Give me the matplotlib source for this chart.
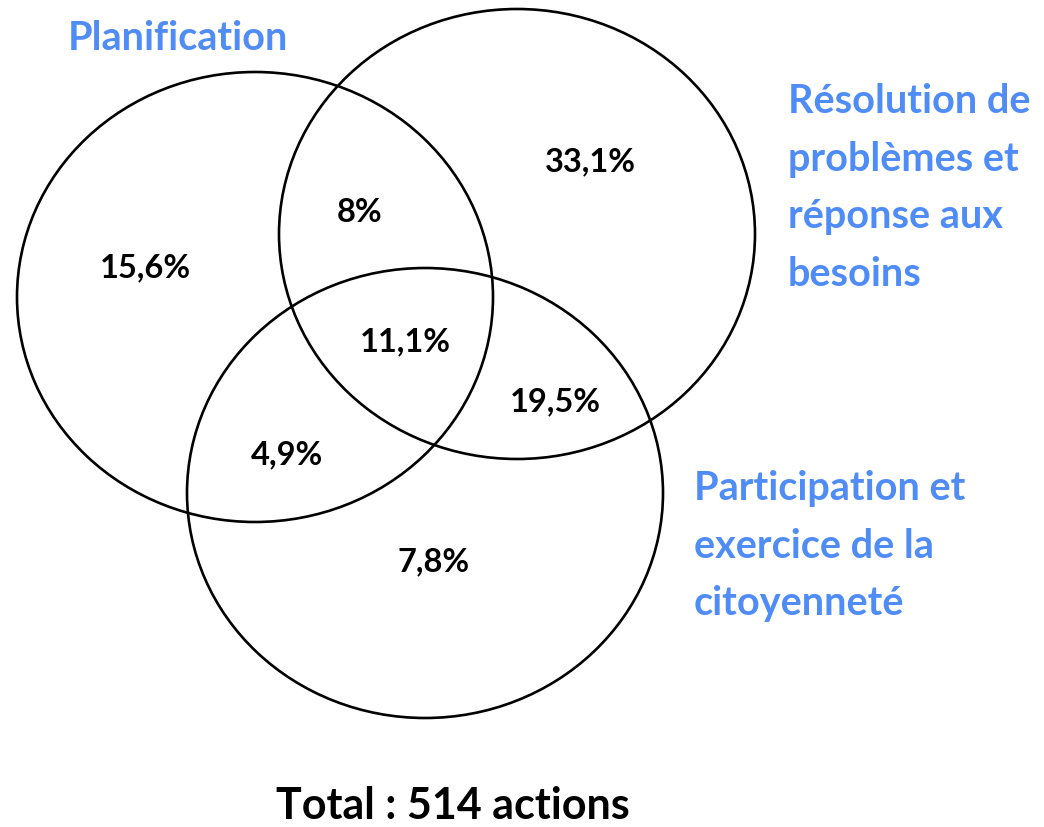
import matplotlib.pyplot as plt
from matplotlib.patches import Ellipse

# sets and region shares
set_names = ['Planification',
             'Résolution de\nproblèmes et\nréponse aux\nbesoins',
             'Participation et\nexercice de la\ncitoyenneté']
region_labels = ['15,6%', '33,1%', '7,8%', '8%', '4,9%', '19,5%', '11,1%']
total_text = 'Total : 514 actions'

blue = '#4f8cf6'
plt.rcParams['font.family'] = ['Lato', 'DejaVu Sans']

fig = plt.figure(figsize=(10.44, 8.27), dpi=100)
ax = fig.add_axes([0, 0, 1, 1])
ax.set_xlim(0, 1044)
ax.set_ylim(827, 0)
ax.axis('off')

# circles (pixel layout)
centers = [(255, 297), (517, 234), (425, 493)]
for cx, cy in centers:
    ax.add_patch(Ellipse((cx, cy), 476, 450, fill=False, lw=1.9, ec='black'))

# region labels
label_pos = [(145, 268), (590, 162), (434, 562), (360, 213),
             (287, 455), (555, 402), (405, 342)]
for txt, (x, y) in zip(region_labels, label_pos):
    ax.text(x, y, txt, ha='center', va='center', fontsize=23.5,
            fontweight='bold', color='black')

# set names
name_pos = [(68, 38), (788, 188), (694, 546)]
for txt, (x, y) in zip(set_names, name_pos):
    ax.text(x, y, txt, ha='left', va='center', fontsize=28.5,
            fontweight='bold', color=blue, linespacing=1.68)

ax.text(453, 806, total_text, ha='center', va='center', fontsize=31,
        fontweight='bold', color='black')

fig.savefig('out.png', dpi=100)
